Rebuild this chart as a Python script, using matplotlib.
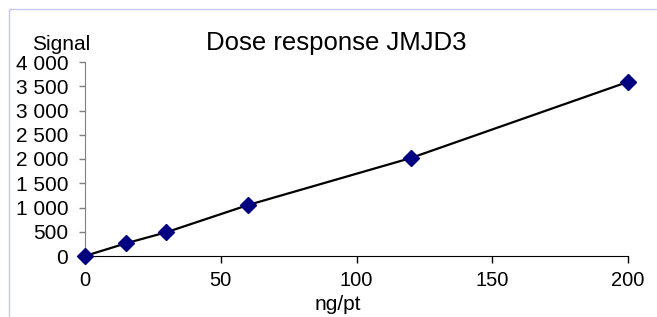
import matplotlib
matplotlib.use("Agg")
import matplotlib.pyplot as plt
from matplotlib.ticker import FuncFormatter, MultipleLocator
from matplotlib.patches import Rectangle

plt.rcParams['font.family'] = ['Liberation Sans', 'DejaVu Sans']

# dose (ng/pt) vs signal
dose = [0, 15, 30, 60, 120, 200]
signal = [0, 260, 490, 1050, 2020, 3590]

fig = plt.figure(figsize=(6.57, 3.17), dpi=100)

# light frame around the chart area
fig.patches.append(Rectangle((9 / 657, -0.1), 1.2, 1 - 9 / 317 + 0.1,
                             transform=fig.transFigure, fill=False,
                             edgecolor='#c8c8ee', linewidth=1.0))

ax = fig.add_axes([85 / 657, 1 - 256 / 317, (628 - 85) / 657, (256 - 62) / 317])

ax.plot(dose, signal, color='black', linewidth=1.6, marker='D', markersize=8.5,
        markerfacecolor='#000080', markeredgecolor='#000080', clip_on=False, zorder=3)

ax.set_xlim(0, 200)
ax.set_ylim(0, 4000)
ax.xaxis.set_major_locator(MultipleLocator(50))
ax.yaxis.set_major_locator(MultipleLocator(500))
ax.yaxis.set_major_formatter(FuncFormatter(lambda v, p: f"{v:,.0f}".replace(",", " ")))

for s in ['top', 'right']:
    ax.spines[s].set_visible(False)
ax.spines['left'].set_color('#808080')
ax.spines['bottom'].set_color('black')

ax.tick_params(axis='y', direction='out', length=4, width=1, colors='#808080',
               labelcolor='black', labelsize=15, pad=8)
ax.tick_params(axis='x', direction='out', length=5, width=1, colors='black',
               labelsize=14.5, pad=6)

fig.text(61 / 657, 1 - 44 / 317, "Signal", fontsize=15, ha='center', va='center')
fig.text(338 / 657, 1 - 305 / 317, "ng/pt", fontsize=15, ha='center', va='center')
fig.text(336 / 657, 1 - 43 / 317, "Dose response JMJD3", fontsize=18.5, ha='center', va='center')

fig.savefig("out.png", dpi=100)
